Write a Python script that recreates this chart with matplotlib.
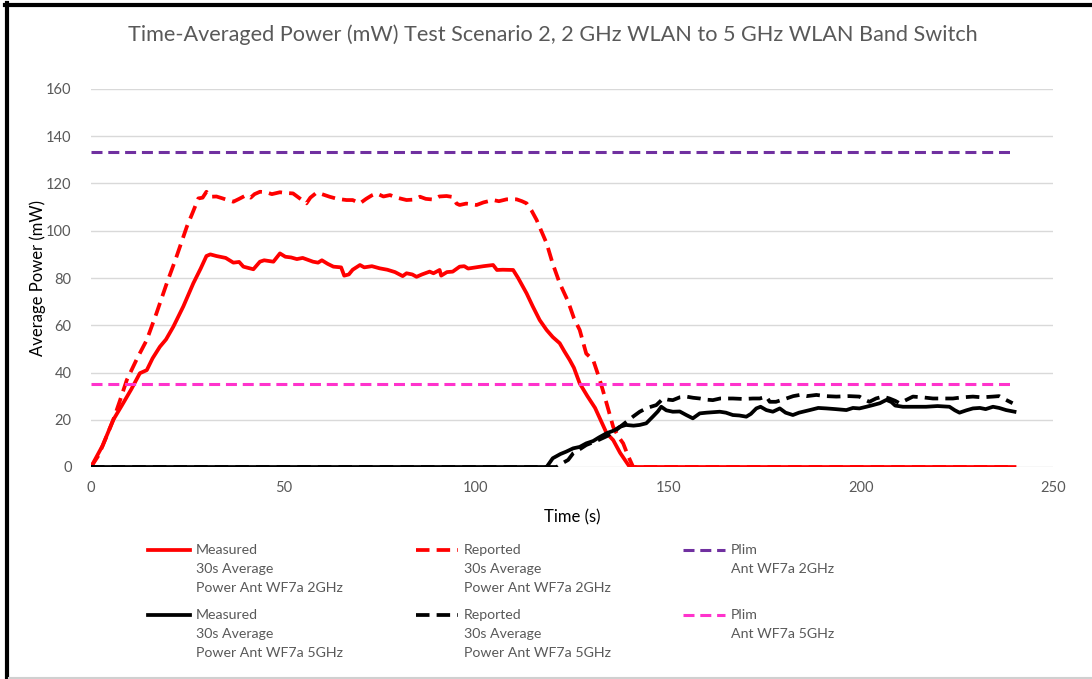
import matplotlib
matplotlib.use("Agg")
import matplotlib.pyplot as plt
from matplotlib.lines import Line2D

plt.rcParams['font.family'] = ['Lato', 'DejaVu Sans']

# --- data ---
t_meas_2g = [0, 3, 5.8, 8, 10.5, 12.7, 14.5, 16, 17.9, 19.5, 21.4, 24, 26.6, 28.5, 30, 31,
             32.6, 35, 37, 38.5, 39.6, 42.2, 43.9, 45, 47.4, 49.1, 50.5, 52, 53.5, 55, 57.7,
             59, 60, 61.5, 63, 65, 65.8, 67, 68, 69.9, 71, 73, 75, 77, 79, 81, 82, 83.5,
             84.6, 86, 88, 89, 90.6, 91, 92.5, 94, 95.8, 97, 98, 100, 102, 104.5, 105.5,
             107, 109.7, 111, 113.2, 114.8, 116.6, 118.4, 120, 121.8, 123, 124.4, 125.5,
             127, 129, 131, 134, 135.7, 137.5, 140, 240]
p_meas_2g = [0, 9, 20, 26, 33, 39.7, 41, 46, 50.9, 54, 59.4, 68, 77.8, 84, 89.3, 90,
             89.3, 88.5, 86.5, 86.8, 84.8, 83.7, 86.9, 87.5, 86.9, 90.4, 89, 88.7, 88, 88.5, 86.9,
             86.5, 87.5, 86, 84.8, 84.5, 81, 81.5, 83.5, 85.5, 84.5, 85, 84.1, 83.5, 82.5, 80.8, 82, 81.5,
             80.5, 81.5, 82.7, 82, 83.4, 81, 82.5, 82.7, 84.8, 85, 84, 84.5, 85, 85.5, 83.4,
             83.5, 83.4, 80, 73.5, 68, 62.2, 58, 55, 52.4, 49, 45.3, 42,
             35.4, 30, 25, 14.3, 11.4, 6, 0, 0]

t_rep_2g = [0, 2, 4, 5.8, 7.5, 9.3, 12, 14.5, 17, 19.7, 22, 24.9, 26.5, 27.9, 29, 30, 31,
            32.6, 34, 35.5, 37, 38.5, 40.4, 41.5, 42.5, 43.9, 45.5, 47, 49.1, 50.5, 52.5, 54,
            56, 57, 58.6, 60, 62, 64, 66.4, 68, 69.9, 71.5, 73, 74.2, 76, 77.7, 79.5, 82, 84,
            85.5, 87, 89, 90.5, 92.4, 94, 95, 95.8, 97.5, 100.2, 102, 104.5, 106, 108, 110.6,
            112, 113.2, 114.5, 115.8, 117, 118.4, 120, 121.8, 124, 125.5, 127, 128.7, 130.5,
            132, 133, 134.5, 135.7, 137, 138.3, 139.5, 140.9, 240]
p_rep_2g = [0, 5, 12.8, 20, 28, 36.8, 46, 53.8, 65, 77.8, 88, 101.7, 108, 113.7, 114, 116.5, 114.4,
            114.5, 113.8, 113, 112.3, 113.5, 115.1, 114, 115.5, 116.5, 116.3, 115.5, 116.3, 116, 115.8, 114,
            111.6, 114, 116.1, 115.5, 114.4, 113.5, 113, 113, 111.6, 113.5, 115, 115.8, 114.5, 115.1, 114, 113, 113.2,
            114.4, 113.5, 113.2, 114.5, 114.7, 114.3, 111.5, 110.9, 111.5, 110.9, 112, 113, 112.5, 113.3, 113.3,
            112.5, 111.6, 108.5, 104.6, 100, 94.7, 86, 77.8, 70, 63, 58, 48, 45.3,
            38, 32.6, 24, 17, 13, 10, 5, 0, 0]

t_meas_5g = [0, 118.4, 120, 122, 123.5, 125.3, 127, 128.7, 130.5, 132, 134, 136, 137.4, 139, 141,
             142.6, 144.3, 146, 147.3, 148.2, 149.5, 151.2, 153, 154.7, 156.4, 158.2, 160, 163.4,
             165, 166.8, 168.5, 170.3, 171.5, 172.9, 174, 175.5, 177.2, 179, 180.5, 182.4, 184,
             186.8, 189, 191.1, 193.5, 196.3, 198, 199.7, 201.5, 203.2, 205, 206.7, 208, 209,
             211, 214, 217, 220, 223.1, 224.5, 225.7, 227.5, 229.2, 231, 232.5, 234.4, 236,
             237.8, 240]
p_meas_5g = [0, 0, 3.7, 5.5, 6.5, 7.9, 8.5, 10, 11, 12.5, 14.3, 15.5, 17, 17.8, 17.5,
             17.8, 18.5, 21.3, 23.5, 25.5, 24, 23.4, 23.5, 22, 20.6, 22.7, 23, 23.4,
             23, 22, 21.8, 21.3, 22.5, 24.8, 25.5, 24.1, 23.4, 24.8, 23, 22, 23,
             24.1, 25, 24.8, 24.5, 24.1, 25, 24.8, 25.5, 26.2, 27, 28.4, 27.5, 26,
             25.5, 25.5, 25.5, 25.8, 25.5, 24, 23, 24, 24.8, 25, 24.5, 25.5, 25,
             24.1, 23.4]

t_rep_5g = [0, 121, 122.6, 124, 125.3, 127, 128.7, 130.5, 132, 134, 136, 137.5, 139.2, 141,
            142.6, 144.5, 146.9, 148.7, 150, 151.2, 153, 154.7, 156.5, 158.2, 160, 161.6, 163.5,
            166.8, 169.5, 172, 173.8, 175.5, 176.4, 178, 180.7, 182.5, 184.2, 186, 188.5, 191,
            193.7, 197, 199.7, 201, 202.3, 204, 205.8, 207.5, 209, 210.1, 212, 213.6, 216,
            218.8, 221.5, 224, 226.5, 229.2, 231.5, 234.4, 236, 237.8, 239.5]
p_rep_5g = [0, 0, 1.7, 3, 5.8, 7.5, 9.3, 10.5, 11.5, 13, 15, 17, 19.2, 21.5,
            23.4, 25, 26.2, 29, 28.5, 28.3, 29.5, 29.8, 29.3, 29, 28.5, 28.3, 29,
            29, 28.8, 29, 29, 29.8, 27.6, 27.6, 29, 30, 30.5, 30, 30.5, 30,
            29.8, 30, 29.8, 28.5, 27.6, 29, 29.8, 29, 28, 27, 28.5, 29.8, 29.5,
            29, 29, 29, 29.5, 29.8, 29.5, 29.8, 30, 28.4, 27]

t_plim = [0, 240]
plim_2g = [133.5, 133.5]
plim_5g = [35, 35]

labels = ["Measured\n30s Average\nPower Ant WF7a 2GHz",
          "Reported\n30s Average\nPower Ant WF7a 2GHz",
          "Plim\nAnt WF7a 2GHz",
          "Measured\n30s Average\nPower Ant WF7a 5GHz",
          "Reported\n30s Average\nPower Ant WF7a 5GHz",
          "Plim\nAnt WF7a 5GHz"]

RED = "#FF0000"
PURPLE = "#7030A0"
PINK = "#FF33CC"
GREY = "#595959"
DASH = (3.6, 1.9)

fig = plt.figure(figsize=(10.92, 6.79), dpi=100)
ax = fig.add_axes([91 / 1092, 1 - 467 / 679, 962 / 1092, 378 / 679])

styles = [
    dict(color=RED, lw=2.7, ls='-'),
    dict(color=RED, lw=2.7, dashes=DASH),
    dict(color=PURPLE, lw=2.2, dashes=DASH),
    dict(color='black', lw=2.7, ls='-'),
    dict(color='black', lw=2.7, dashes=DASH),
    dict(color=PINK, lw=2.2, dashes=DASH),
]
series = [(t_meas_2g, p_meas_2g), (t_rep_2g, p_rep_2g), (t_plim, plim_2g),
          (t_meas_5g, p_meas_5g), (t_rep_5g, p_rep_5g), (t_plim, plim_5g)]

for (tx, py), st in zip(series, styles):
    ax.plot(tx, py, solid_joinstyle='round', **st)

ax.set_xlim(0, 250)
ax.set_ylim(0, 160)
ax.set_xticks(range(0, 251, 50))
ax.set_yticks(range(0, 161, 20))
ax.grid(axis='y', color='#D9D9D9', lw=1)
ax.set_axisbelow(True)
for s in ax.spines.values():
    s.set_visible(False)
ax.tick_params(length=0, labelsize=10.5, labelcolor=GREY)
ax.tick_params(axis='y', pad=14)
ax.tick_params(axis='x', pad=10)

ax.set_xlabel("Time (s)", fontsize=12, color='black')
ax.set_ylabel("Average Power (mW)", fontsize=12, color='black')
ax.xaxis.set_label_coords(0.5, -0.112)
ax.yaxis.set_label_coords(-0.047, 0.5)

fig.text(553 / 1092, 1 - 35 / 679, "Time-Averaged Power (mW) Test Scenario 2, 2 GHz WLAN to 5 GHz WLAN Band Switch",
         ha='center', va='center', fontsize=15.6, color=GREY)

# legend drawn by hand: 3 columns x 2 rows
col_x = [148, 416, 683]
row_y = [550, 615]
for i, (lab, st) in enumerate(zip(labels, styles)):
    x0 = col_x[i % 3]
    y0 = row_y[i // 3]
    fig.add_artist(Line2D([x0 / 1092, (x0 + 42) / 1092], [1 - y0 / 679, 1 - y0 / 679],
                          transform=fig.transFigure, **st))
    fig.text((x0 + 48) / 1092, 1 - (y0 - 6) / 679, lab, ha='left', va='top',
             fontsize=10.2, color=GREY, linespacing=1.72)

# frame around the chart
fig.add_artist(Line2D([7 / 1092, 7 / 1092], [0, 1 - 3 / 679], transform=fig.transFigure,
                      color='black', lw=3))
fig.add_artist(Line2D([5 / 1092, 1], [1 - 5 / 679, 1 - 5 / 679], transform=fig.transFigure,
                      color='black', lw=3))
fig.add_artist(Line2D([9 / 1092, 1], [1.5 / 679, 1.5 / 679], transform=fig.transFigure,
                      color='#D0D0D0', lw=1.5))

fig.savefig("out.png", dpi=100)
